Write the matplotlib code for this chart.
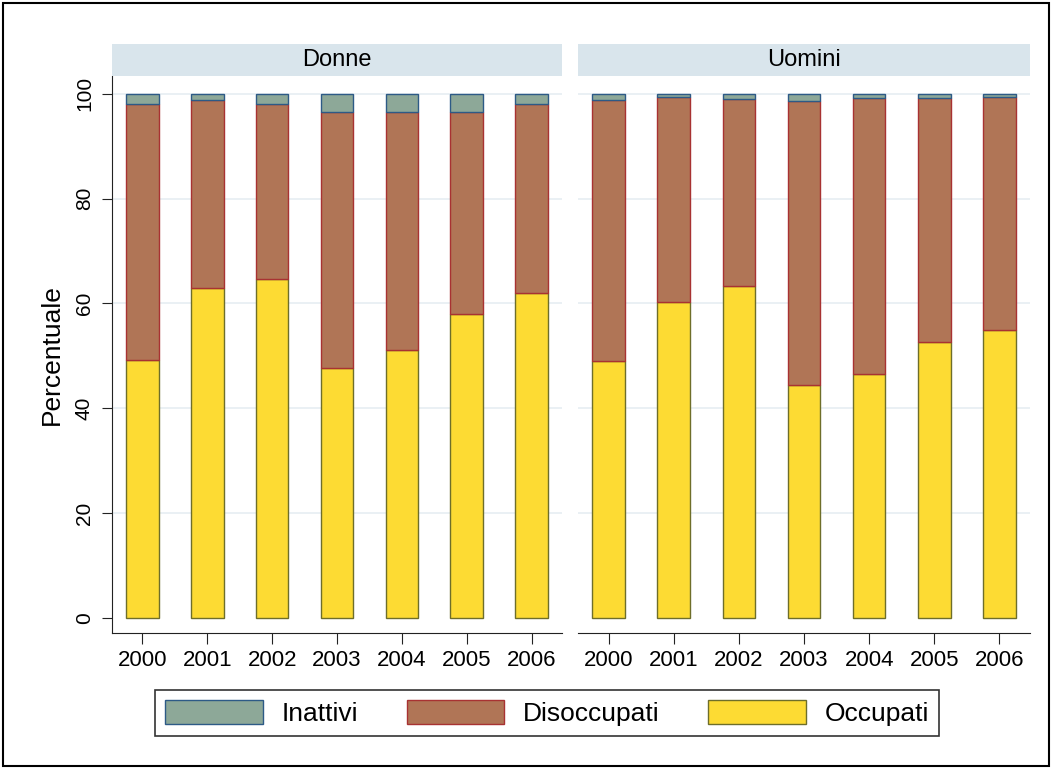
import matplotlib.pyplot as plt
import numpy as np
from matplotlib.patches import Rectangle

plt.rcParams['font.family'] = ['Liberation Sans', 'DejaVu Sans']

years = ['2000', '2001', '2002', '2003', '2004', '2005', '2006']
panels = ['Donne', 'Uomini']
labels = ['Inattivi', 'Disoccupati', 'Occupati']

# percent values, stacked bottom -> top: occupati, disoccupati, inattivi
occupati = {
    'Donne': [49.2, 63.0, 64.7, 47.6, 51.1, 58.0, 62.0],
    'Uomini': [49.0, 60.3, 63.4, 44.4, 46.5, 52.6, 55.0],
}
disoccupati = {
    'Donne': [48.9, 35.8, 33.4, 48.9, 45.4, 38.5, 36.0],
    'Uomini': [49.9, 39.1, 35.6, 54.3, 52.7, 46.6, 44.4],
}
inattivi = {
    'Donne': [1.9, 1.2, 1.9, 3.5, 3.5, 3.5, 2.0],
    'Uomini': [1.1, 0.6, 1.0, 1.3, 0.8, 0.8, 0.6],
}

fill = {'Occupati': '#fddb33', 'Disoccupati': '#b07556', 'Inattivi': '#8da898'}
edge = {'Occupati': '#6e6e2a', 'Disoccupati': '#a83232', 'Inattivi': '#2d5a86'}

fig = plt.figure(figsize=(10.52, 7.69), dpi=100)
W, H = 1052, 769

def px(x0, y0, x1, y1):
    return [x0 / W, 1 - y1 / H, (x1 - x0) / W, (y1 - y0) / H]

axes = [fig.add_axes(px(112, 76, 562, 633)), fig.add_axes(px(578, 76, 1030, 633))]
x = np.arange(len(years))

handles = {}
for i, (ax, p) in enumerate(zip(axes, panels)):
    occ = np.array(occupati[p])
    dis = np.array(disoccupati[p])
    ina = np.array(inattivi[p])
    for y in [20, 40, 60, 80, 100]:
        ax.axhline(y, color='#e6edf2', lw=1.2, zorder=0)
    handles['Occupati'] = ax.bar(x, occ, 0.5, color=fill['Occupati'], edgecolor=edge['Occupati'], lw=1, zorder=2)
    handles['Disoccupati'] = ax.bar(x, dis, 0.5, bottom=occ, color=fill['Disoccupati'], edgecolor=edge['Disoccupati'], lw=1, zorder=2)
    handles['Inattivi'] = ax.bar(x, ina, 0.5, bottom=occ + dis, color=fill['Inattivi'], edgecolor=edge['Inattivi'], lw=1, zorder=2)
    ax.set_xlim(-0.47, 6.47)
    ax.set_ylim(-2.9, 103.4)
    ax.set_xticks(x)
    ax.set_xticklabels(years, fontsize=16)
    ax.set_yticks([0, 20, 40, 60, 80, 100])
    for s in ['top', 'right']:
        ax.spines[s].set_visible(False)
    ax.spines['bottom'].set_color('#222222')
    ax.tick_params(axis='x', length=8, color='#222222', pad=4)
    if i == 0:
        ax.spines['left'].set_color('#222222')
        ax.set_yticklabels(['0', '20', '40', '60', '80', '100'], fontsize=15, rotation=90, va='center')
        ax.tick_params(axis='y', length=7, color='#222222', pad=6)
        ax.set_ylabel('Percentuale', fontsize=19, labelpad=8)
    else:
        ax.spines['left'].set_visible(False)
        ax.tick_params(axis='y', left=False, labelleft=False)

# strip headers
for (x0, x1), p in zip([(112, 562), (578, 1030)], panels):
    sax = fig.add_axes(px(x0, 44, x1, 76))
    sax.set_facecolor('#d9e5ec')
    sax.set_xticks([])
    sax.set_yticks([])
    for s in sax.spines.values():
        s.set_visible(False)
    sax.text(0.5, 0.5, p, ha='center', va='center', fontsize=17, transform=sax.transAxes)

leg = fig.legend([handles[l] for l in labels], labels, loc='center', ncol=3,
                 bbox_to_anchor=(547 / W, 1 - 713 / H), fontsize=19, frameon=True,
                 fancybox=False, edgecolor='black', handlelength=3.7, handleheight=1.0,
                 columnspacing=1.85, handletextpad=0.7, borderpad=0.4)
leg.get_frame().set_linewidth(1.2)

fig.patches.append(Rectangle((3 / W, 3 / H), 1 - 6 / W, 1 - 6 / H, transform=fig.transFigure,
                             fill=False, edgecolor='black', lw=1.5))

fig.savefig('out.png', dpi=100)
